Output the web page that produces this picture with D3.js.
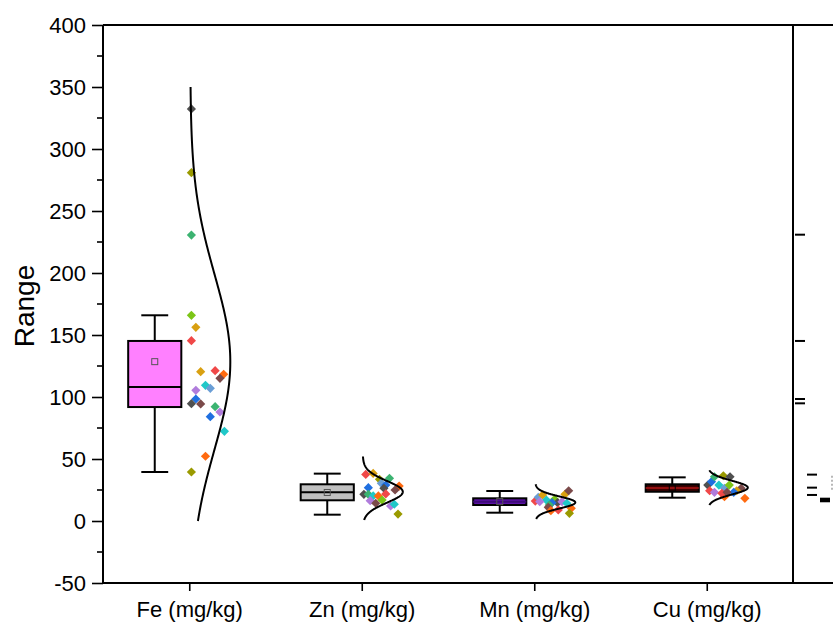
<!DOCTYPE html>
<html>
<head>
<meta charset="utf-8">
<script src="https://cdn.jsdelivr.net/npm/d3@7"></script>
<style>
  html, body { margin: 0; padding: 0; background: #fff; }
  svg { display: block; font-family: "Liberation Sans", Arial, sans-serif; }
</style>
</head>
<body>
<svg id="chart" width="833" height="624"></svg>
<script>
// ---- data ----
const categories = ["Fe (mg/kg)", "Zn (mg/kg)", "Mn (mg/kg)", "Cu (mg/kg)"];
const yTicks = [-50, 0, 50, 100, 150, 200, 250, 300, 350, 400];

// box statistics per element
const whiskerLow  = [39.5, 5.1, 6.7, 18.8];
const quartile1   = [91.9, 16.7, 12.9, 23.6];
const medians     = [108, 23.1, 15.6, 26.6];
const quartile3   = [145.2, 29.6, 18.3, 29.6];
const whiskerHigh = [165.9, 38.2, 24.2, 35.2];
const means       = [128.5, 23, 15.6, 26.6];
const boxFills    = ["#ff80ff", "#c0c0c0", "#5b12a6", "#3c0000"];
const medianColors = ["#000", "#000", "#3d0a78", "#b01515"];

// normal-curve extent per element
const curveLow  = [0, 0.8, 1.6, 12.9];
const curveHigh = [350, 52, 29.6, 41];

// individual samples: value, jitter (0..1 across the point band), colour
const feValues = [332.3, 280.9, 230.6, 165.9, 156.2, 145.4, 120.4, 121.2, 118.3, 115.1, 109.4, 107, 105.4, 98.4, 94.6, 94.4, 92.2, 87.9, 84.1, 72.3, 52.2, 39.5];
const feJitter = [0.03, 0.03, 0.03, 0.03, 0.15, 0.03, 0.28, 0.67, 0.9, 0.8, 0.41, 0.54, 0.15, 0.15, 0.03, 0.28, 0.67, 0.8, 0.54, 0.92, 0.41, 0.03];
const feColors = ["dkgray", "olive", "green", "ygreen", "gold", "red", "gold", "red", "orange", "brown", "cyan", "sblue", "lav", "blue", "dkgray", "brown", "green", "lav", "blue", "cyan", "orange", "olive"];

const znValues = [37.6, 38.4, 33.6, 34.4, 30.4, 29.0, 28.2, 25.0, 26.4, 26.9, 21.5, 21.5, 20.2, 20.2, 21.8, 16.4, 14.3, 16.9, 12.1, 13.5, 5.6];
const znJitter = [0.08, 0.28, 0.45, 0.72, 0.5, 0.62, 0.98, 0.87, 0.57, 0.15, 0.03, 0.15, 0.28, 0.42, 0.62, 0.2, 0.35, 0.52, 0.75, 0.85, 0.95];
const znColors = ["red", "gold", "olive", "green", "sblue", "blue", "orange", "brown", "dkgray", "blue", "dkgray", "green", "cyan", "orange", "red", "lav", "brown", "ygreen", "lav", "cyan", "olive"];

const mnValues = [16.1, 19.1, 21.0, 16.9, 17.5, 14.8, 14.8, 15.6, 21.5, 24.4, 12.9, 11.0, 8.3, 8.9, 10.2, 6.2, 15.6, 14.3];
const mnJitter = [0.0, 0.08, 0.2, 0.3, 0.52, 0.6, 0.45, 0.72, 0.8, 0.9, 0.38, 0.35, 0.42, 0.62, 0.97, 0.92, 0.12, 0.85];
const mnColors = ["red", "sblue", "gold", "cyan", "ygreen", "dkgray", "blue", "lav", "gold", "brown", "green", "brown", "orange", "red", "orange", "olive", "lav", "cyan"];

const cuValues = [29.0, 31.7, 35.7, 36.5, 35.7, 29.0, 24.4, 23.1, 26.4, 29.0, 26.4, 24.4, 23.1, 19.6, 22.3, 18.3, 23.1];
const cuJitter = [0.0, 0.1, 0.18, 0.42, 0.6, 0.3, 0.05, 0.18, 0.45, 0.58, 0.9, 0.78, 0.7, 0.45, 0.38, 1.0, 0.52];
const cuColors = ["dkgray", "blue", "green", "olive", "dkgray", "cyan", "red", "lav", "sblue", "ygreen", "brown", "gold", "blue", "orange", "red", "orange", "brown"];

const palette = {
  dkgray: "#505050", olive: "#9a9a00", green: "#3cb371", ygreen: "#7cc517",
  gold: "#d9a011", red: "#f04848", orange: "#ff6a10", brown: "#7b4a4a",
  cyan: "#20c8c8", sblue: "#6a9ed6", lav: "#b07cdc", blue: "#1f6fe0"
};

// marks of the neighbouring panel (partly visible at the right edge)
const sideTicksA = [230.9, 145.2, 98.4, 94.9];
const sideTicksB = [37.4, 26.9, 21.0];
const sideBox = [15.1, 18.8];
const sideDash = [23.6, 36.5];

// ---- layout ----
const svg = d3.select("#chart");
const W = 833, H = 624;
const plotLeft = 103, plotRight = 793, plotTop = 25, plotBottom = 583;

const x = d3.scaleLinear().domain([0.5, 4.5]).range([plotLeft, plotRight]);
const y = d3.scaleLinear().domain([-50, 400]).range([plotBottom, plotTop]);
const unit = x(2) - x(1);

const boxOffset = -0.2;   // boxes sit left of the category tick
const boxHalf = 0.154;
const capHalf = 0.078;
const pointBand = 0.215;  // width of the scatter band (category units)
const curveAmp = 0.232;   // peak width of the fitted normal curve

const groups = [
  { values: feValues, jitter: feJitter, colors: feColors },
  { values: znValues, jitter: znJitter, colors: znColors },
  { values: mnValues, jitter: mnJitter, colors: mnColors },
  { values: cuValues, jitter: cuJitter, colors: cuColors }
];

// ---- axes ----
const yAxis = d3.axisLeft(y)
  .tickValues(yTicks)
  .tickSize(11)
  .tickPadding(6)
  .tickFormat(d => String(d));
const gy = svg.append("g").attr("transform", `translate(${plotLeft},0)`).call(yAxis);
gy.select(".domain").remove();
gy.selectAll(".tick line").attr("stroke", "#000").attr("stroke-width", 1.6);
gy.selectAll(".tick text").attr("font-size", 22).attr("fill", "#000")
  .attr("font-family", "Liberation Sans, Arial, sans-serif");

// minor ticks
const minor = d3.range(-25, 400, 50);
svg.append("g").selectAll("line").data(minor).join("line")
  .attr("x1", plotLeft - 6).attr("x2", plotLeft)
  .attr("y1", d => y(d)).attr("y2", d => y(d))
  .attr("stroke", "#000").attr("stroke-width", 1.6);

const xAxis = d3.axisBottom(x)
  .tickValues([1, 2, 3, 4])
  .tickSize(8)
  .tickPadding(10)
  .tickFormat((d, i) => categories[i]);
const gx = svg.append("g").attr("transform", `translate(0,${plotBottom})`).call(xAxis);
gx.select(".domain").remove();
gx.selectAll(".tick line").attr("stroke", "#000").attr("stroke-width", 1.6);
gx.selectAll(".tick text").attr("font-size", 22).attr("fill", "#000")
  .attr("font-family", "Liberation Sans, Arial, sans-serif");

// frame
const frame = svg.append("g").attr("stroke", "#000").attr("stroke-width", 2);
frame.append("line").attr("x1", plotLeft).attr("x2", plotLeft).attr("y1", plotTop).attr("y2", plotBottom);
frame.append("line").attr("x1", plotLeft).attr("x2", W).attr("y1", plotTop).attr("y2", plotTop);
frame.append("line").attr("x1", plotLeft).attr("x2", W).attr("y1", plotBottom).attr("y2", plotBottom);
frame.append("line").attr("x1", plotRight).attr("x2", plotRight).attr("y1", plotTop).attr("y2", plotBottom);

// y title
svg.append("text")
  .attr("transform", `translate(34,${(plotTop + plotBottom) / 2 + 2}) rotate(-90)`)
  .attr("text-anchor", "middle")
  .attr("font-size", 28)
  .text("Range");

// ---- boxes ----
const boxes = svg.append("g");
categories.forEach((c, i) => {
  const cx = x(i + 1 + boxOffset);
  const g = boxes.append("g");
  // whiskers
  g.append("line").attr("x1", cx).attr("x2", cx)
    .attr("y1", y(whiskerHigh[i])).attr("y2", y(quartile3[i]))
    .attr("stroke", "#000").attr("stroke-width", 2);
  g.append("line").attr("x1", cx).attr("x2", cx)
    .attr("y1", y(quartile1[i])).attr("y2", y(whiskerLow[i]))
    .attr("stroke", "#000").attr("stroke-width", 2);
  [whiskerHigh[i], whiskerLow[i]].forEach(v => {
    g.append("line")
      .attr("x1", cx - capHalf * unit).attr("x2", cx + capHalf * unit)
      .attr("y1", y(v)).attr("y2", y(v))
      .attr("stroke", "#000").attr("stroke-width", 2);
  });
  // box
  g.append("rect")
    .attr("x", cx - boxHalf * unit).attr("width", 2 * boxHalf * unit)
    .attr("y", y(quartile3[i])).attr("height", y(quartile1[i]) - y(quartile3[i]))
    .attr("fill", boxFills[i]).attr("stroke", "#000").attr("stroke-width", 2);
  // median
  g.append("line")
    .attr("x1", cx - boxHalf * unit).attr("x2", cx + boxHalf * unit)
    .attr("y1", y(medians[i])).attr("y2", y(medians[i]))
    .attr("stroke", medianColors[i]).attr("stroke-width", i === 3 ? 1.5 : 2);
  // mean
  g.append("rect")
    .attr("x", cx - 3).attr("y", y(means[i]) - 3)
    .attr("width", 6).attr("height", 6)
    .attr("fill", "none").attr("stroke", i === 3 ? "#000" : "#555").attr("stroke-width", 1);
});

// ---- points ----
const diamond = r => `M0,${-r}L${r},0L0,${r}L${-r},0Z`;
const pts = svg.append("g");
groups.forEach((gr, i) => {
  pts.append("g").selectAll("path")
    .data(gr.values.map((v, k) => ({ v, j: gr.jitter[k], c: gr.colors[k] })))
    .join("path")
    .attr("d", diamond(4.6))
    .attr("transform", d => `translate(${x(i + 1 + 0.006 + d.j * pointBand)},${y(d.v)})`)
    .attr("fill", d => palette[d.c]);
});

// ---- fitted normal curves ----
const curves = svg.append("g");
groups.forEach((gr, i) => {
  const mu = d3.mean(gr.values);
  const sd = d3.deviation(gr.values);
  const steps = d3.range(0, 201).map(t => curveLow[i] + (curveHigh[i] - curveLow[i]) * t / 200);
  const line = d3.line()
    .x(v => x(i + 1 + 0.006 + curveAmp * Math.exp(-((v - mu) ** 2) / (2 * sd * sd))))
    .y(v => y(v));
  curves.append("path")
    .attr("d", line(steps))
    .attr("fill", "none").attr("stroke", "#000").attr("stroke-width", 2);
});

// ---- neighbouring panel marks ----
const side = svg.append("g").attr("stroke", "#000").attr("stroke-width", 2);
side.append("g").selectAll("line").data(sideTicksA).join("line")
  .attr("x1", plotRight + 2).attr("x2", plotRight + 12)
  .attr("y1", d => y(d)).attr("y2", d => y(d));
side.append("g").selectAll("line").data(sideTicksB).join("line")
  .attr("x1", plotRight + 14).attr("x2", plotRight + 24)
  .attr("y1", d => y(d)).attr("y2", d => y(d));
svg.append("rect")
  .attr("x", plotRight + 27).attr("width", 10)
  .attr("y", y(sideBox[1])).attr("height", y(sideBox[0]) - y(sideBox[1]))
  .attr("fill", "#000");
svg.append("line")
  .attr("x1", plotRight + 39).attr("x2", plotRight + 39)
  .attr("y1", y(sideDash[1])).attr("y2", y(sideDash[0]))
  .attr("stroke", "#888").attr("stroke-width", 1.2).attr("stroke-dasharray", "2,2");
</script>
</body>
</html>
